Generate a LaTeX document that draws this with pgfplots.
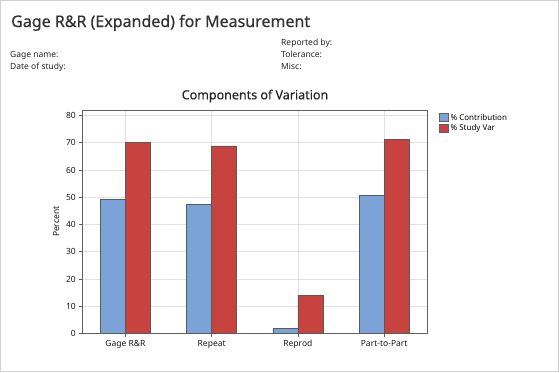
\documentclass[border=0pt]{standalone}
\usepackage{fontspec}
\setmainfont{Noto Sans}
\newfontfamily\semib[FakeBold=0.6]{Noto Sans}
\usepackage{pgfplots}
\pgfplotsset{compat=1.18}
\definecolor{cblue}{HTML}{7BA3D8}
\definecolor{cred}{HTML}{C84240}
\definecolor{frame}{HTML}{D0D0D0}
\definecolor{axgray}{HTML}{606060}
\definecolor{gridc}{HTML}{E2E2E2}
\begin{document}
\begin{tikzpicture}
\useasboundingbox (0bp,0bp) rectangle (559bp,-373bp);
\draw[frame,line width=1.2bp] (0.6bp,-0.6bp) rectangle (558.4bp,-371.4bp);
\node[anchor=base west,font=\semib\fontsize{16bp}{18bp}\selectfont,text=black!80,inner sep=0] at (11bp,-27bp) {Gage R\&R (Expanded) for Measurement};
\begin{scope}[every node/.style={anchor=base west,font=\fontsize{8.5bp}{10bp}\selectfont,text=black!85,inner sep=0}]
\node at (10bp,-57bp) {Gage name:};
\node at (10bp,-69bp) {Date of study:};
\node at (281bp,-45bp) {Reported by:};
\node at (281bp,-57bp) {Tolerance:};
\node at (281bp,-69bp) {Misc:};
\end{scope}
\node[font=\semib\fontsize{12.5bp}{14bp}\selectfont,text=black!85,inner sep=0] at (255bp,-96bp) {Components of Variation};
\begin{axis}[
  at={(82.3bp,-333.5bp)}, anchor=south west,
  scale only axis, width=345bp, height=223.5bp,
  ybar=0pt, bar width=25bp,
  xmin=-0.5, xmax=3.5, ymin=0, ymax=82,
  xtick=data, xticklabels={Gage R\&R,Repeat,Reprod,Part-to-Part},
  ytick={0,10,...,80},
  xtick pos=bottom, ytick pos=left,
  tick align=outside, major tick length=3bp,
  tick style={axgray, line width=0.6bp},
  axis line style={axgray, line width=0.8bp},
  xmajorgrids, ymajorgrids,
  major grid style={gridc, line width=0.6bp},
  ticklabel style={font=\fontsize{8.5bp}{10bp}\selectfont, text=black!90},
  /pgf/number format/assume math mode=true,
  ylabel={Percent},
  ylabel style={font=\fontsize{8.5bp}{10bp}\selectfont, text=black!90},
  legend style={at={(1,1)}, xshift=9bp, anchor=north west, draw=none, fill=none,
    font=\fontsize{8bp}{9.5bp}\selectfont, row sep=-1bp},
  legend image code/.code={\draw[#1, draw=axgray] (0bp,-3.8bp) rectangle (8.5bp,4.5bp);},
  legend cell align=left,
]
\addplot[fill=cblue, draw=black!65, line width=0.6bp] coordinates {(0,49.3) (1,47.3) (2,2.0) (3,50.7)};
\addplot[fill=cred, draw=black!65, line width=0.6bp] coordinates {(0,70.2) (1,68.8) (2,14.1) (3,71.2)};
\legend{\% Contribution, \% Study Var}
\end{axis}
\end{tikzpicture}
\end{document}
